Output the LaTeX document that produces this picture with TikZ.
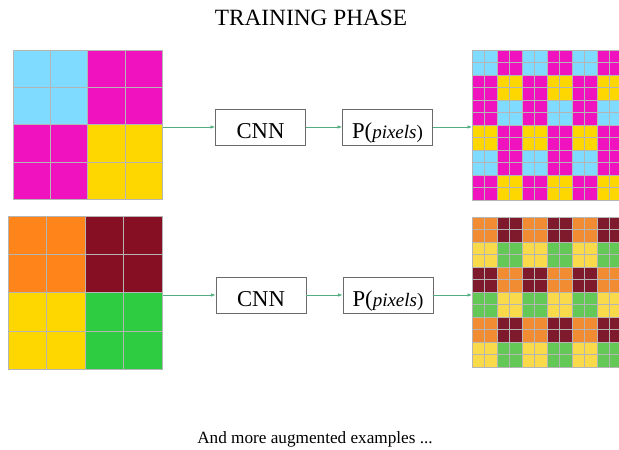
\documentclass[tikz,border=0pt]{standalone}
\usepackage{fontspec}
\setmainfont{Liberation Serif}
\usetikzlibrary{arrows.meta}
\definecolor{tq0}{HTML}{7FDBFF}
\definecolor{tq1}{HTML}{F012BE}
\definecolor{tq2}{HTML}{F012BE}
\definecolor{tq3}{HTML}{FFD700}
\definecolor{bq0}{HTML}{FF851B}
\definecolor{bq1}{HTML}{870F23}
\definecolor{bq2}{HTML}{FFD700}
\definecolor{bq3}{HTML}{2ECC40}
\definecolor{rq0}{HTML}{F28C33}
\definecolor{rq1}{HTML}{7E1A2B}
\definecolor{rq2}{HTML}{F9DA4A}
\definecolor{rq3}{HTML}{63C856}
\definecolor{gline}{HTML}{B5B5B5}
\definecolor{arrc}{HTML}{52AE80}
\definecolor{boxc}{HTML}{6A6A6A}
\newcommand\quadgrid[5]{% x, y, w, h, colour prefix
  \fill[#5\string0] (#1,#2) rectangle ++({#3/2},{#4/2});
  \fill[#5\string1] ({#1+#3/2},#2) rectangle ++({#3/2},{#4/2});
  \fill[#5\string2] (#1,{#2+#4/2}) rectangle ++({#3/2},{#4/2});
  \fill[#5\string3] ({#1+#3/2},{#2+#4/2}) rectangle ++({#3/2},{#4/2});
  \foreach \i in {1,2,3} {
    \draw[gridln] ({#1+\i*#3/4},#2) -- ++(0,#4);
    \draw[gridln] (#1,{#2+\i*#4/4}) -- ++(#3,0);
  }
}
\newcommand\tilegrid[3]{% x, y, colour prefix ; 6x6 blocks of 25
  \foreach \r/\a/\b in {0/0/1,1/2/3,2/1/0,3/3/2,4/0/1,5/2/3} {
    \foreach \k in {0,1,2} {
      \fill[#3\a] ({#1+50*\k},{#2+25*\r}) rectangle ++(25,25);
      \fill[#3\b] ({#1+50*\k+25},{#2+25*\r}) rectangle ++(25,25);
    }
  }
  \foreach \i in {1,...,11} {
    \draw[gridln] ({#1+12.5*\i},#2) -- ++(0,150);
    \draw[gridln] (#1,{#2+12.5*\i}) -- ++(150,0);
  }
}
\begin{document}
\begin{tikzpicture}[x=1pt,y=-1pt,
  gridln/.style={draw=gline,line width=0.5pt},
  frame/.style={draw=gline,line width=0.8pt,inner sep=0pt,anchor=north west},
  procbox/.style={draw=boxc,line width=0.8pt,inner sep=0pt,minimum width=90pt,
    minimum height=36pt,text height=22pt,text depth=0pt,
    font=\fontsize{22.7}{24}\selectfont},
  conn/.style={draw=arrc,line width=0.7pt,-{Latex[length=4.5pt,width=3.5pt]}},
  lbl/.style={inner sep=0pt}]
\useasboundingbox (0,0) rectangle (619,450);
% title
\node[lbl,font=\fontsize{23.3}{26}\selectfont] (title) at (311,18) {TRAINING PHASE};
% grids
\quadgrid{13}{50}{149}{149}{tq}
\node[frame,minimum width=149pt,minimum height=149pt] (inA) at (13,50) {};
\quadgrid{8}{216}{154}{153}{bq}
\node[frame,minimum width=154pt,minimum height=153pt] (inB) at (8,216) {};
\tilegrid{472}{50}{tq}
\node[frame,minimum width=150pt,minimum height=150pt] (outA) at (472,50) {};
\tilegrid{472}{217}{rq}
\node[frame,minimum width=150pt,minimum height=150pt] (outB) at (472,217) {};
% boxes
\node[procbox] (cnnA) at (260.5,127) {CNN};
\node[procbox] (pA) at (387.5,127) {P(\fontsize{19}{20}\selectfont\textit{pixels})};
\node[procbox] (cnnB) at (261,295) {CNN};
\node[procbox] (pB) at (388,295) {P(\fontsize{19}{20}\selectfont\textit{pixels})};
% connectors
\draw[conn] (inA.east |- cnnA.west) -- (cnnA.west);
\draw[conn] (cnnA.east) -- (pA.west);
\draw[conn] (pA.east) -- (outA.west |- pA.east);
\draw[conn] (inB.east |- cnnB.west) -- (cnnB.west);
\draw[conn] (cnnB.east) -- (pB.west);
\draw[conn] (pB.east) -- (outB.west |- pB.east);
% footer
\node[lbl,font=\fontsize{17.2}{20}\selectfont] (foot) at (315,439) {And more augmented examples ...};
\end{tikzpicture}
\end{document}
